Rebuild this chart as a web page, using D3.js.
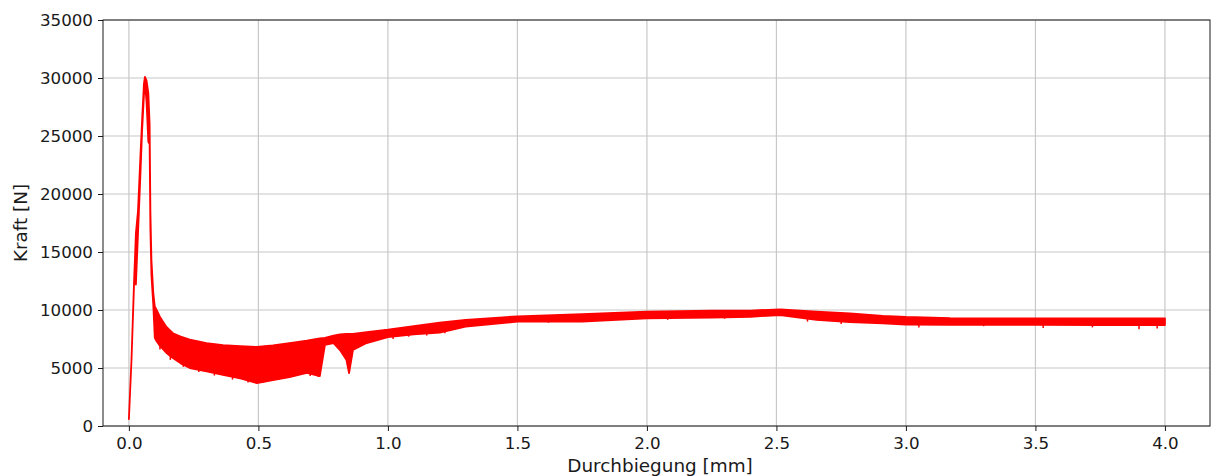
<!DOCTYPE html>
<html>
<head>
<meta charset="utf-8">
<script src="https://cdn.jsdelivr.net/npm/d3@7"></script>
<style>
  body { margin: 0; background: #fff; }
  text { font-family: "DejaVu Sans", sans-serif; }
</style>
</head>
<body>
<svg id="chart" width="1211" height="476"></svg>
<script>
// deflection [mm] and force envelope [N] (noisy band -> upper/lower)
const deflection = [0, 0.01, 0.02, 0.027, 0.035, 0.045, 0.051, 0.058, 0.062, 0.068, 0.075, 0.08, 0.083, 0.087,
  0.094, 0.1, 0.107, 0.12, 0.145, 0.17, 0.2, 0.235, 0.3, 0.363, 0.43, 0.494, 0.556, 0.62, 0.687, 0.737, 0.757,
  0.79, 0.815, 0.84, 0.85, 0.865, 0.918, 1.0, 1.1, 1.2, 1.3, 1.5, 1.75, 2.0, 2.25, 2.4, 2.514, 2.655, 2.784,
  2.91, 3.0, 3.17, 3.5, 3.75, 4.0]
const forceUpper = [600, 5700, 12500, 16600, 18500, 23500, 26400, 29500, 30100, 29800, 28700, 26000, 18500, 14300,
  11500, 10300, 10000, 9400, 8540, 8000, 7700, 7450, 7150, 6980, 6880, 6810, 6950, 7150, 7350, 7550, 7600,
  7800, 7900, 7950, 7950, 7950, 8100, 8300, 8600, 8900, 9150, 9450, 9650, 9850, 9950, 9950, 10060, 9850, 9710,
  9500, 9400, 9300, 9280, 9280, 9280]
const forceLower = [600, 5700, 12300, 12200, 16500, 22000, 25500, 28500, 29500, 28000, 24500, 24300, 17000, 13000,
  10500, 7600, 7300, 6900, 6300, 5860, 5400, 5000, 4700, 4400, 4100, 3700, 3960, 4220, 4570, 4300, 7000,
  7150, 6550, 5690, 4570, 6550, 7150, 7670, 7900, 8050, 8560, 9000, 9000, 9280, 9350, 9420, 9570, 9140, 8950,
  8850, 8750, 8710, 8710, 8700, 8700]

// single downward spikes below the band (deflection, lowest force)
const spikeX = [0.12, 0.16, 0.21, 0.27, 0.33, 0.4, 0.46, 0.52, 0.58, 0.64, 0.7, 0.73, 1.02, 1.08, 1.15, 1.22,
  1.4, 1.62, 1.83, 2.08, 2.3, 2.62, 2.75, 3.05, 3.3, 3.53, 3.72, 3.9, 3.97]
const spikeForce = [6600, 5700, 5100, 4650, 4350, 4000, 3750, 3750, 4000, 4300, 4300, 4250, 7500, 7700, 7800, 8000,
  8800, 8900, 9100, 9150, 9250, 9000, 8800, 8500, 8600, 8450, 8500, 8350, 8400]

const xTicks = [0, 0.5, 1.0, 1.5, 2.0, 2.5, 3.0, 3.5, 4.0]
const yTicks = [0, 5000, 10000, 15000, 20000, 25000, 30000, 35000]

const plot = { left: 103, right: 1210, top: 20, bottom: 426 }

const svg = d3.select('#chart')

const xScale = d3.scaleLinear()
    .domain([-0.1, 4.174])
    .range([plot.left, plot.right])

const yScale = d3.scaleLinear()
    .domain([0, 35000])
    .range([plot.bottom, plot.top])

// grid
const grid = svg.append('g')
grid.selectAll('.gx').data(xTicks).join('line')
    .attr('x1', d => xScale(d)).attr('x2', d => xScale(d))
    .attr('y1', plot.top).attr('y2', plot.bottom)
    .attr('stroke', '#c8c8c8').attr('stroke-width', 1.2)
grid.selectAll('.gy').data(yTicks).join('line')
    .attr('x1', plot.left).attr('x2', plot.right)
    .attr('y1', d => yScale(d)).attr('y2', d => yScale(d))
    .attr('stroke', '#c8c8c8').attr('stroke-width', 1.2)

// the force band
const rows = deflection.map((x, i) => ({ x: x, hi: forceUpper[i], lo: forceLower[i] }))
const band = d3.area()
    .x(d => xScale(d.x))
    .y0(d => yScale(d.lo))
    .y1(d => yScale(d.hi))

svg.append('path')
    .datum(rows)
    .attr('d', band)
    .attr('fill', 'red')
    .attr('stroke', 'red')
    .attr('stroke-width', 1.8)
    .attr('stroke-linejoin', 'round')

// spikes hang from the lower edge of the band
const lowerAt = d3.scaleLinear().domain(deflection).range(forceLower)
svg.append('g')
    .selectAll('line')
    .data(spikeX.map((x, i) => ({ x: x, f: spikeForce[i] })))
    .join('line')
    .attr('x1', d => xScale(d.x)).attr('x2', d => xScale(d.x))
    .attr('y1', d => yScale(lowerAt(d.x))).attr('y2', d => yScale(d.f))
    .attr('stroke', 'red').attr('stroke-width', 1.5)

// axes
svg.append('g')
    .attr('transform', `translate(0, ${plot.bottom})`)
    .call(d3.axisBottom(xScale).tickValues(xTicks).tickFormat(d3.format('.1f')).tickSize(5).tickPadding(6))
svg.append('g')
    .attr('transform', `translate(${plot.left}, 0)`)
    .call(d3.axisLeft(yScale).tickValues(yTicks).tickFormat(d => d).tickSize(5).tickPadding(5))

svg.selectAll('.tick text').style('font-size', '16.7px').attr('fill', '#1a1a1a')
svg.selectAll('.tick line').attr('stroke', '#1a1a1a')
svg.selectAll('.domain').remove()

// frame
svg.append('rect')
    .attr('x', plot.left).attr('y', plot.top)
    .attr('width', plot.right - plot.left).attr('height', plot.bottom - plot.top)
    .attr('fill', 'none').attr('stroke', '#1a1a1a').attr('stroke-width', 1)

svg.append('text')
    .attr('x', 660).attr('y', 472)
    .attr('text-anchor', 'middle')
    .style('font-size', '18.4px').attr('fill', '#1a1a1a')
    .text('Durchbiegung [mm]')

svg.append('text')
    .attr('transform', `translate(27, ${(plot.top + plot.bottom) / 2}) rotate(-90)`)
    .attr('text-anchor', 'middle')
    .style('font-size', '18.4px').attr('fill', '#1a1a1a')
    .text('Kraft [N]')
</script>
</body>
</html>
